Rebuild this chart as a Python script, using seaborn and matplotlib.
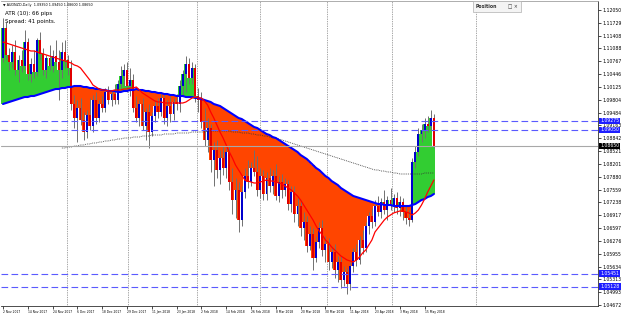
import numpy as np
import matplotlib
matplotlib.use("Agg")
import matplotlib.pyplot as plt
from matplotlib.patches import Rectangle
import seaborn as sns

symbol = "AUDNZD,Daily"
atr_text = "ATR (10): 66 pips"
spread_text = "Spread: 41 points."
panel_title = "Position"

opens = [1.1085, 1.1160, 1.10925, 1.1075, 1.1100, 1.1055, 1.1080, 1.1065, 1.1125, 1.1045,
         1.1070, 1.1050, 1.1130, 1.1095, 1.1055, 1.1085, 1.1065, 1.1090, 1.1075, 1.1055,
         1.1100, 1.1080, 1.1060, 1.0970, 1.0935, 1.0960, 1.0930, 1.0900, 1.09425, 1.0915,
         1.0980, 1.0935, 1.0970, 1.0960, 1.1000, 1.0980, 1.0995, 1.0980, 1.1020, 1.1040,
         1.1055, 1.1015, 1.1030, 1.0960, 1.0935, 1.0970, 1.0915, 1.0950, 1.0900, 1.0940,
         1.0965, 1.0950, 1.0985, 1.0935, 1.0965, 1.0945, 1.0975, 1.0970, 1.1015, 1.1045,
         1.1070, 1.1035, 1.1060, 1.0990, 1.0980, 1.0925, 1.0880, 1.0910, 1.0830, 1.0855,
         1.0805, 1.0835, 1.0810, 1.0850, 1.0775, 1.0730, 1.0755, 1.0680, 1.0750, 1.0790,
         1.0775, 1.0810, 1.0800, 1.0755, 1.0790, 1.0745, 1.0785, 1.0765, 1.0790, 1.0740,
         1.0775, 1.0755, 1.0770, 1.0720, 1.0750, 1.0695, 1.0715, 1.0660, 1.0675, 1.0615,
         1.0645, 1.0585, 1.0625, 1.0660, 1.0605, 1.0620, 1.0575, 1.0600, 1.0555, 1.0575,
         1.0530, 1.0550, 1.0520, 1.0565, 1.0600, 1.0580, 1.0630, 1.0610, 1.0665, 1.0690,
         1.0675, 1.0715, 1.0700, 1.0725, 1.0705, 1.0730, 1.0715, 1.0735, 1.0710, 1.0725,
         1.0700, 1.0685, 1.0680, 1.0825, 1.0850, 1.0895, 1.0905, 1.0920, 1.0915, 1.0935]
highs = [1.1185, 1.1175, 1.1110, 1.11175, 1.1130, 1.10925, 1.1105, 1.1155, 1.1135, 1.1085,
         1.1105, 1.1135, 1.1150, 1.1110, 1.10925, 1.11175, 1.1105, 1.1130, 1.1105, 1.1125,
         1.1130, 1.10925, 1.1080, 1.09925, 1.0980, 1.0985, 1.0950, 1.0955, 1.0985, 1.09925,
         1.1000, 1.0980, 1.0990, 1.1010, 1.1015, 1.1005, 1.1020, 1.1030, 1.1065, 1.1070,
         1.1075, 1.1060, 1.1045, 1.0990, 1.0980, 1.0985, 1.0960, 1.0970, 1.0950, 1.0980,
         1.0985, 1.1000, 1.0995, 1.0980, 1.0990, 1.0985, 1.0995, 1.1030, 1.1055, 1.1090,
         1.1085, 1.1075, 1.1070, 1.1010, 1.1000, 1.0960, 1.0935, 1.0920, 1.0875, 1.0880,
         1.0855, 1.0865, 1.0860, 1.08675, 1.0810, 1.0785, 1.0775, 1.0765, 1.0810, 1.0830,
         1.0825, 1.0855, 1.0840, 1.0810, 1.0805, 1.0800, 1.0810, 1.0805, 1.0820, 1.0790,
         1.0795, 1.0785, 1.0780, 1.0765, 1.0765, 1.0735, 1.0730, 1.0700, 1.0690, 1.0665,
         1.0660, 1.0640, 1.0675, 1.0680, 1.0640, 1.0635, 1.0615, 1.0620, 1.0590, 1.0590,
         1.0565, 1.0560, 1.0575, 1.0610, 1.0620, 1.0640, 1.0655, 1.0675, 1.0700, 1.0710,
         1.0730, 1.0740, 1.0735, 1.0755, 1.0740, 1.0760, 1.0745, 1.0750, 1.0740, 1.0735,
         1.0715, 1.0705, 1.0835, 1.0865, 1.0910, 1.0920, 1.0935, 1.0940, 1.0955, 1.0945]
lows = [1.1075, 1.1080, 1.1055, 1.1060, 1.10425, 1.1025, 1.1050, 1.1055, 1.1030, 1.1025,
        1.1035, 1.1040, 1.1080, 1.10425, 1.1035, 1.1055, 1.1050, 1.1065, 1.0980, 1.1035,
        1.1060, 1.10425, 1.0955, 1.0910, 1.0875, 1.09175, 1.0880, 1.0885, 1.0905, 1.0900,
        1.0920, 1.0925, 1.0950, 1.0950, 1.0970, 1.0965, 1.0970, 1.0970, 1.1005, 1.1015,
        1.1000, 1.0990, 1.0950, 1.0925, 1.0915, 1.0905, 1.0880, 1.0860, 1.0890, 1.0925,
        1.0935, 1.0940, 1.0920, 1.0915, 1.0925, 1.0930, 1.0955, 1.0950, 1.0990, 1.1000,
        1.1020, 1.1020, 1.0975, 1.0950, 1.0910, 1.0865, 1.0850, 1.0800, 1.0765, 1.0785,
        1.0770, 1.07925, 1.0785, 1.0755, 1.0695, 1.0685, 1.0650, 1.0665, 1.0735, 1.0760,
        1.0765, 1.0790, 1.0740, 1.0735, 1.0730, 1.0730, 1.0750, 1.0745, 1.0730, 1.0725,
        1.0735, 1.0740, 1.0705, 1.0700, 1.0675, 1.0665, 1.0640, 1.0630, 1.0600, 1.0605,
        1.0555, 1.0575, 1.0610, 1.0590, 1.0575, 1.0555, 1.0560, 1.0535, 1.0525, 1.0510,
        1.0515, 1.0495, 1.0505, 1.0550, 1.0565, 1.0570, 1.0595, 1.0600, 1.0645, 1.0660,
        1.0665, 1.0690, 1.0685, 1.0695, 1.0680, 1.0705, 1.0700, 1.0695, 1.0690, 1.0680,
        1.0670, 1.0665, 1.0675, 1.0810, 1.0840, 1.0875, 1.0885, 1.0900, 1.0905, 1.0860]
closes = [1.1160, 1.10925, 1.1075, 1.1100, 1.1055, 1.1080, 1.1065, 1.1125, 1.1045, 1.1070,
          1.1050, 1.1130, 1.1095, 1.1055, 1.1085, 1.1065, 1.1090, 1.1075, 1.1055, 1.1100,
          1.1080, 1.1060, 1.0970, 1.0935, 1.0960, 1.0930, 1.0900, 1.09425, 1.0915, 1.0980,
          1.0935, 1.0970, 1.0960, 1.1000, 1.0980, 1.0995, 1.0980, 1.1020, 1.1040, 1.1055,
          1.1015, 1.1030, 1.0960, 1.0935, 1.0970, 1.0915, 1.0950, 1.0900, 1.0940, 1.0965,
          1.0950, 1.0985, 1.0935, 1.0965, 1.0945, 1.0975, 1.0970, 1.1015, 1.1045, 1.1070,
          1.1035, 1.1060, 1.0990, 1.0980, 1.0925, 1.0880, 1.0910, 1.0830, 1.0855, 1.0805,
          1.0835, 1.0810, 1.0850, 1.0775, 1.0730, 1.0755, 1.0680, 1.0750, 1.0790, 1.0775,
          1.0810, 1.0800, 1.0755, 1.0790, 1.0745, 1.0785, 1.0765, 1.0790, 1.0740, 1.0775,
          1.0755, 1.0770, 1.0720, 1.0750, 1.0695, 1.0715, 1.0660, 1.0675, 1.0615, 1.0645,
          1.0585, 1.0625, 1.0660, 1.0605, 1.0620, 1.0575, 1.0600, 1.0555, 1.0575, 1.0530,
          1.0550, 1.0520, 1.0565, 1.0600, 1.0580, 1.0630, 1.0610, 1.0665, 1.0690, 1.0675,
          1.0715, 1.0700, 1.0725, 1.0705, 1.0730, 1.0715, 1.0735, 1.0710, 1.0725, 1.0700,
          1.0685, 1.0680, 1.0825, 1.0850, 1.0895, 1.0905, 1.0920, 1.0915, 1.0935, 1.0865]

ma_fast = [1.1125, 1.11225, 1.1120, 1.11175, 1.1115, 1.11125, 1.1110, 1.11075, 1.1105, 1.11025,
           1.11025, 1.1100, 1.10975, 1.1095, 1.10925, 1.1090, 1.10875, 1.1085, 1.10825, 1.1080,
           1.10775, 1.1075, 1.10725, 1.10675, 1.1065, 1.1060, 1.1050, 1.1040, 1.1030, 1.10175,
           1.10125, 1.10075, 1.1005, 1.1005, 1.10025, 1.10025, 1.1005, 1.1005, 1.1005, 1.10075,
           1.10075, 1.1010, 1.1010, 1.10125, 1.1005, 1.09975, 1.09925, 1.09875, 1.09825, 1.09775,
           1.0975, 1.0975, 1.09725, 1.09725, 1.09725, 1.09725, 1.09725, 1.09725, 1.09725, 1.0975,
           1.0980, 1.0985, 1.09875, 1.0985, 1.0985, 1.09775, 1.09675, 1.0950, 1.0935, 1.09175,
           1.0900, 1.0885, 1.08675, 1.0850, 1.0835, 1.08175, 1.0805, 1.07925, 1.0780, 1.07775,
           1.0775, 1.07725, 1.07725, 1.0775, 1.07775, 1.0780, 1.07775, 1.07775, 1.0775, 1.07725,
           1.0770, 1.0765, 1.0760, 1.0755, 1.07475, 1.0740, 1.0730, 1.07175, 1.0705, 1.06925,
           1.0680, 1.0665, 1.06525, 1.06425, 1.0630, 1.06225, 1.06125, 1.0605, 1.05975, 1.0590,
           1.0585, 1.0580, 1.05775, 1.0575, 1.0580, 1.05875, 1.05975, 1.0605, 1.06175, 1.0630,
           1.0650, 1.0660, 1.0670, 1.0680, 1.06875, 1.06925, 1.06975, 1.0700, 1.07025, 1.07025,
           1.0700, 1.06975, 1.06925, 1.06975, 1.0705, 1.07175, 1.07325, 1.0750, 1.0765, 1.0780]
ma_slow = [1.0970, 1.09725, 1.0975, 1.09775, 1.0980, 1.09825, 1.0985, 1.09875, 1.09875, 1.0990,
           1.0990, 1.09925, 1.0995, 1.09975, 1.1000, 1.10025, 1.1005, 1.10075, 1.10075, 1.1010,
           1.1010, 1.10125, 1.10125, 1.1015, 1.1015, 1.1015, 1.10125, 1.10125, 1.1010, 1.1010,
           1.10075, 1.10075, 1.1005, 1.1005, 1.10025, 1.10025, 1.10025, 1.1000, 1.1000, 1.10025,
           1.10025, 1.1005, 1.1005, 1.10075, 1.1005, 1.1005, 1.10025, 1.10025, 1.1000, 1.1000,
           1.09975, 1.09975, 1.0995, 1.0995, 1.09925, 1.09925, 1.0990, 1.0990, 1.0990, 1.09875,
           1.09875, 1.09875, 1.0985, 1.0985, 1.09825, 1.0980, 1.09775, 1.0975, 1.0970, 1.09675,
           1.0965, 1.0960, 1.0955, 1.0950, 1.0945, 1.0940, 1.0935, 1.09325, 1.09275, 1.09225,
           1.09175, 1.09125, 1.0910, 1.0905, 1.0900, 1.0895, 1.08925, 1.08875, 1.0885, 1.0880,
           1.0875, 1.0870, 1.0865, 1.0860, 1.0855, 1.0850, 1.08425, 1.08375, 1.08325, 1.0825,
           1.08175, 1.0810, 1.0805, 1.07975, 1.0790, 1.0785, 1.07775, 1.07725, 1.07675, 1.0760,
           1.0755, 1.0750, 1.0745, 1.0740, 1.07375, 1.0735, 1.07325, 1.0730, 1.07275, 1.0725,
           1.07225, 1.0720, 1.0720, 1.07175, 1.07175, 1.07175, 1.0715, 1.0715, 1.0715, 1.0715,
           1.0715, 1.0715, 1.07175, 1.0720, 1.0725, 1.0730, 1.07325, 1.07375, 1.0740, 1.0745]
ma_long_first_bar = 19
ma_long = [1.0860, 1.0860, 1.08625, 1.08625, 1.0865, 1.0865, 1.08675, 1.08675, 1.0870, 1.0870, 1.08725,
           1.08725, 1.0875, 1.0875, 1.08775, 1.08775, 1.0880, 1.0880, 1.08825, 1.08825, 1.0885,
           1.0885, 1.0885, 1.08875, 1.08875, 1.08875, 1.0890, 1.0890, 1.0890, 1.08925, 1.08925,
           1.08925, 1.08925, 1.0895, 1.0895, 1.0895, 1.0895, 1.08975, 1.08975, 1.08975, 1.08975,
           1.08975, 1.0900, 1.0900, 1.0900, 1.0900, 1.0900, 1.09025, 1.09025, 1.09025, 1.09025,
           1.09025, 1.09025, 1.09025, 1.09025, 1.0900, 1.0900, 1.0900, 1.08975, 1.08975, 1.08975,
           1.0895, 1.0895, 1.08925, 1.08925, 1.0890, 1.0890, 1.08875, 1.0885, 1.0885, 1.08825,
           1.0880, 1.08775, 1.0875, 1.08725, 1.0870, 1.08675, 1.0865, 1.08625, 1.0860, 1.08575,
           1.0855, 1.08525, 1.0850, 1.08475, 1.0845, 1.08425, 1.0840, 1.08375, 1.0835, 1.08325,
           1.0830, 1.08275, 1.0825, 1.08225, 1.0820, 1.08175, 1.0815, 1.08125, 1.0810, 1.08075,
           1.0805, 1.0805, 1.08025, 1.08025, 1.0800, 1.0800, 1.07975, 1.07975, 1.0795, 1.0795,
           1.0795, 1.0795, 1.0795, 1.0795, 1.0795, 1.0795, 1.07975, 1.07975, 1.07975, 1.07975]

date_labels = ["2 Nov 2017", "14 Nov 2017", "24 Nov 2017", "6 Dec 2017", "18 Dec 2017",
               "29 Dec 2017", "11 Jan 2018", "23 Jan 2018", "2 Feb 2018", "14 Feb 2018",
               "26 Feb 2018", "8 Mar 2018", "20 Mar 2018", "30 Mar 2018", "11 Apr 2018",
               "23 Apr 2018", "3 May 2018", "15 May 2018"]
date_label_bars = [0, 8, 16, 24, 32, 40, 48, 56, 64, 72, 80, 88, 96, 104, 112, 120, 128, 136]
period_separators = [20.6, 40.3, 62.6, 82.9, 104.5, 125.5, 152.6]
price_ticks = [1.12050, 1.11729, 1.11408, 1.11088, 1.10767, 1.10446, 1.10125, 1.09804,
               1.09484, 1.09163, 1.08842, 1.08521, 1.08201, 1.07880, 1.07559, 1.07238,
               1.06917, 1.06597, 1.06276, 1.05955, 1.05634, 1.05313, 1.04993, 1.04672]
level_lines = [1.09275, 1.09050, 1.05451, 1.05128]

# ---------------------------------------------------------------
sns.set_style("white")
plt.rcParams['font.family'] = ['DejaVu Sans']

o = np.array(opens); h = np.array(highs); l = np.array(lows); c = np.array(closes)
fast = np.array(ma_fast); slow = np.array(ma_slow); lng = np.array(ma_long)
idx = np.arange(len(c))
lidx = np.arange(ma_long_first_bar, ma_long_first_bar + len(lng))

W, H = 625, 314
fig = plt.figure(figsize=(W / 100, H / 100), dpi=100)
fig.patch.set_facecolor('white')
ax = fig.add_axes([1 / W, 1 - 306 / H, 597 / W, 305 / H])
ax.set_facecolor('white')

# histogram fill between slow MA and close
fill_cols = np.where(c >= slow, '#32CD32', '#FF4500')
ax.bar(idx, c - slow, bottom=slow, width=1.02, color=fill_cols, linewidth=0, zorder=1)

# period separators
for s in period_separators:
    ax.axvline(s, color='#505050', lw=0.5, ls=(0, (1, 1.5)), zorder=0.5)

# candles
ax.vlines(idx, l, h, color='#707070', lw=0.7, zorder=2)
body_cols = np.where(c >= o, '#0000CD', '#E00000')
body_h = np.where(np.abs(c - o) < 0.00005, 0.00005, c - o)
ax.bar(idx, body_h, bottom=o, width=0.6, color=body_cols, linewidth=0, zorder=3)

# moving averages
sns.lineplot(x=lidx, y=lng, ax=ax, color='#333333', lw=0.6, linestyle=(0, (1, 1.2)), zorder=4)
sns.lineplot(x=idx, y=slow, ax=ax, color='#0000FF', lw=1.5, zorder=4)
sns.lineplot(x=idx, y=fast, ax=ax, color='#FF0000', lw=0.9, zorder=5)

# horizontal levels
for lv in level_lines:
    ax.axhline(lv, color='#5A5AFF', lw=0.8, ls=(0, (6, 3)), zorder=6)
bid = c[-1]
ax.axhline(bid, color='#A8A8A8', lw=0.8, zorder=6)

ax.set_xlim((1 - 3) / 3.1, (598 - 3) / 3.1)
ax.set_ylim(1.123 - 306 / 4000, 1.123 - 1 / 4000)

ax.yaxis.tick_right()
ax.set_yticks(price_ticks)
ax.set_yticklabels([f"{v:.5f}" for v in price_ticks], fontsize=3.3)
ax.tick_params(axis='y', length=2, width=0.5, pad=1.5, colors='black', right=True, left=False)
ax.set_xticks(date_label_bars)
ax.set_xticklabels(date_labels, fontsize=2.2, ha='left')
ax.tick_params(axis='x', length=2, width=0.5, pad=1, colors='black', bottom=True)
ax.set_xlabel(""); ax.set_ylabel("")
for side, sp in ax.spines.items():
    sp.set_color('#303030'); sp.set_linewidth(0.6)
ax.spines['left'].set_visible(False)
ax.spines['top'].set_color('#A0A0A0')

ytr = ax.get_yaxis_transform()
for lv in level_lines:
    ax.text(1.004, lv, f"{lv:.5f}", transform=ytr, fontsize=3.3, color='white', va='center', ha='left',
            bbox=dict(facecolor='#1E1EFF', edgecolor='none', pad=0.7), zorder=10, clip_on=False)
ax.text(1.004, bid, f"{bid:.5f}", transform=ytr, fontsize=3.3, color='white', va='center', ha='left',
        bbox=dict(facecolor='black', edgecolor='none', pad=0.7), zorder=10, clip_on=False)

# top-left info texts
fig.text(3 / W, 1 - 5 / H, "\u25BC " + f"{symbol}  {o[-1]:.5f} {h[-1]:.5f} {l[-1]:.5f} {c[-1]:.5f}",
         fontsize=2.4, va='center', ha='left', color='black')
fig.text(5 / W, 1 - 13 / H, atr_text, fontsize=4.0, va='center', ha='left', color='black')
fig.text(5 / W, 1 - 21 / H, spread_text, fontsize=4.0, va='center', ha='left', color='black')

# Position panel
fig.patches.append(Rectangle((473 / W, 1 - 12 / H), 48 / W, 11 / H, transform=fig.transFigure,
                             facecolor='#F4F4F4', edgecolor='#B0B0B0', lw=0.5, zorder=20))
fig.text(476 / W, 1 - 6.5 / H, panel_title, fontsize=3.3, fontweight='bold', va='center', ha='left',
         color='#333333', zorder=21)
fig.text(508 / W, 1 - 6.5 / H, "\u25A1 \u00D7", fontsize=3.3, va='center', ha='left', color='#333333', zorder=21)

fig.savefig("out.png", dpi=100)
